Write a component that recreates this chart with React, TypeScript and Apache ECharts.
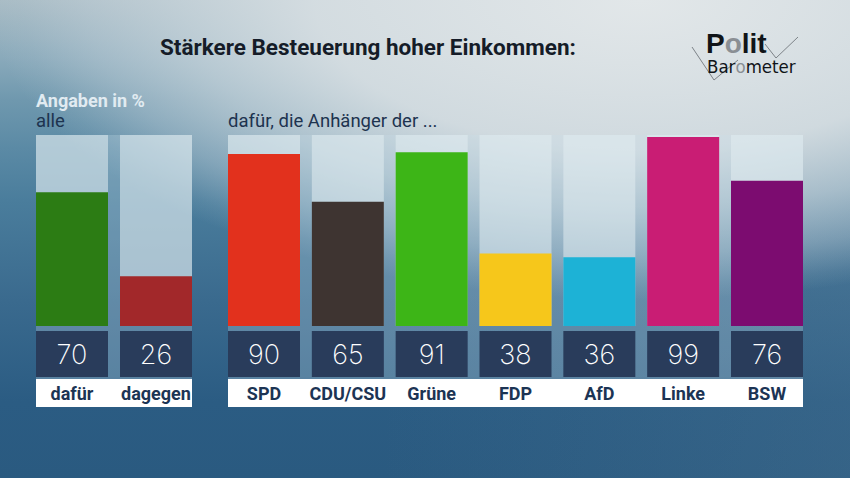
import React, { useEffect, useRef } from "react";
import * as echarts from "echarts";

// ---------- data ----------
const titleText = "Stärkere Besteuerung hoher Einkommen:";
const unitNote = "Angaben in %";
const allHeading = "alle";
const partyHeading = "dafür, die Anhänger der ...";

const allCategories = ["dafür", "dagegen"];
const allValues = [70, 26];
const allColors = ["#2c7c14", "#a2282a"];

const partyCategories = ["SPD", "CDU/CSU", "Grüne", "FDP", "AfD", "Linke", "BSW"];
const partyValues = [90, 65, 91, 38, 36, 99, 76];
const partyColors = ["#e2311d", "#3e3431", "#3db517", "#f6c71b", "#1db2d6", "#c91d74", "#7c0c70"];

// ---------- layout ----------
const BAR_W = 72;
const BAR_TOP = 135;
const BAR_BOTTOM = 326;
const STRIP_TOP = 379;
const STRIP_BOTTOM = 407;

const groups = [
  { cats: allCategories, vals: allValues, colors: allColors, left: 36, right: 192 },
  { cats: partyCategories, vals: partyValues, colors: partyColors, left: 228, right: 803 },
];

export default function App() {
  const ref = useRef<HTMLDivElement>(null);

  useEffect(() => {
    if (!ref.current) return;
    const chart = echarts.init(ref.current, undefined, { renderer: "svg" });

    const grid: any[] = [];
    const xAxis: any[] = [];
    const yAxis: any[] = [];
    const series: any[] = [];
    const graphic: any[] = [];

    groups.forEach((g, gi) => {
      const n = g.cats.length;
      const span = g.right - g.left;
      const gap = (span - n * BAR_W) / (n - 1);
      const pitch = BAR_W + gap;
      grid.push({
        left: g.left - gap / 2,
        width: n * pitch,
        top: BAR_TOP,
        height: BAR_BOTTOM - BAR_TOP,
        containLabel: false,
      });
      xAxis.push({
        type: "category",
        gridIndex: gi,
        data: g.cats,
        axisLine: { show: false },
        axisTick: { show: false },
        splitLine: { show: false },
        axisLabel: {
          interval: 0,
          margin: 5,
          formatter: (value: string, idx: number) => `{num|${g.vals[idx]}}\n{name|${value}}`,
          rich: {
            num: {
              width: BAR_W,
              height: 46,
              lineHeight: 46,
              backgroundColor: "#293c5b",
              color: "#ffffff",
              fontSize: 27,
              fontFamily: "Inter",
              fontWeight: 200,
              align: "center",
            },
            name: {
              height: 32,
              lineHeight: 32,
              color: "#1c3454",
              fontSize: 18,
              fontFamily: "Roboto",
              fontWeight: "bold",
              align: "center",
            },
          },
        },
      });
      yAxis.push({
        type: "value",
        gridIndex: gi,
        min: 0,
        max: 100,
        show: false,
      });
      series.push({
        type: "bar",
        xAxisIndex: gi,
        yAxisIndex: gi,
        barWidth: BAR_W,
        data: g.vals.map((v, i) => ({ value: v, itemStyle: { color: g.colors[i] } })),
        showBackground: true,
        backgroundStyle: { color: "rgba(226,236,241,0.55)" },
        label: { show: false },
      });
      // translucent panel behind group
      graphic.push({
        type: "rect",
        z: -5,
        shape: { x: g.left, y: BAR_TOP, width: span, height: STRIP_TOP - BAR_TOP },
        style: { fill: "rgba(200,222,234,0.28)" },
      });
      // white name strip
      graphic.push({
        type: "rect",
        z: -4,
        shape: { x: g.left, y: STRIP_TOP, width: span, height: STRIP_BOTTOM - STRIP_TOP },
        style: { fill: "#ffffff" },
      });
    });

    graphic.push(
      {
        type: "text",
        x: 160,
        y: 47,
        style: {
          text: titleText,
          font: "bold 22.5px Roboto",
          fill: "#151c28",
          verticalAlign: "middle",
        },
      },
      {
        type: "text",
        x: 36,
        y: 100,
        style: {
          text: unitNote,
          font: "bold 18px Roboto",
          fill: "#e1ebf1",
          verticalAlign: "middle",
        },
      },
      {
        type: "text",
        x: 36,
        y: 121,
        style: {
          text: allHeading,
          font: "18.5px Roboto",
          fill: "#1d334f",
          verticalAlign: "middle",
        },
      },
      {
        type: "text",
        x: 228,
        y: 121,
        style: {
          text: partyHeading,
          font: "18.5px Roboto",
          fill: "#1d334f",
          verticalAlign: "middle",
        },
      },
      // logo
      {
        type: "polyline",
        shape: { points: [[692, 47], [714, 80], [738, 60]] },
        style: { stroke: "#7d8388", lineWidth: 1, fill: null },
      },
      {
        type: "polyline",
        shape: { points: [[765, 44], [776, 58], [798, 37]] },
        style: { stroke: "#7d8388", lineWidth: 1, fill: null },
      },
      {
        type: "text",
        x: 706,
        y: 43,
        style: {
          text: "{a|P}{b|o}{a|lit}",
          verticalAlign: "middle",
          rich: {
            a: { font: "bold 28px 'Liberation Sans'", fill: "#101418" },
            b: { font: "bold 28px 'Liberation Sans'", fill: "#8a8f94" },
          },
        },
      },
      {
        type: "text",
        x: 707,
        y: 66,
        style: {
          text: "{a|Bar}{b|o}{a|meter}",
          verticalAlign: "middle",
          rich: {
            a: { font: "18.5px 'DejaVu Sans Condensed'", fill: "#101418" },
            b: { font: "18.5px 'DejaVu Sans Condensed'", fill: "#8a8f94" },
          },
        },
      }
    );

    chart.setOption({
      animation: false,
      backgroundColor: "transparent",
      grid,
      xAxis,
      yAxis,
      series,
      graphic,
    });

    return () => chart.dispose();
  }, []);

  return (
    <div
      ref={ref}
      style={{
        position: "fixed",
        left: 0,
        top: 0,
        width: 850,
        height: 478,
        background: [
          "radial-gradient(650px 300px at 640px 0px, rgba(226,231,233,1) 0%, rgba(214,222,226,0.95) 50%, rgba(205,216,222,0.7) 70%, rgba(200,212,220,0.4) 85%, rgba(190,205,215,0.12) 95%, rgba(190,205,215,0) 100%)",
          "linear-gradient(90deg, rgba(70,110,140,0) 45%, rgba(80,120,150,0.3) 100%)",
          "linear-gradient(180deg, #a9bcc5 0%, #8aaabb 12%, #6f98ae 21%, #5b8aa5 31%, #4a7d9c 42%, #3a6a8e 63%, #2b5c83 84%, #2a5a80 100%)",
        ].join(", "),
      }}
    />
  );
}
